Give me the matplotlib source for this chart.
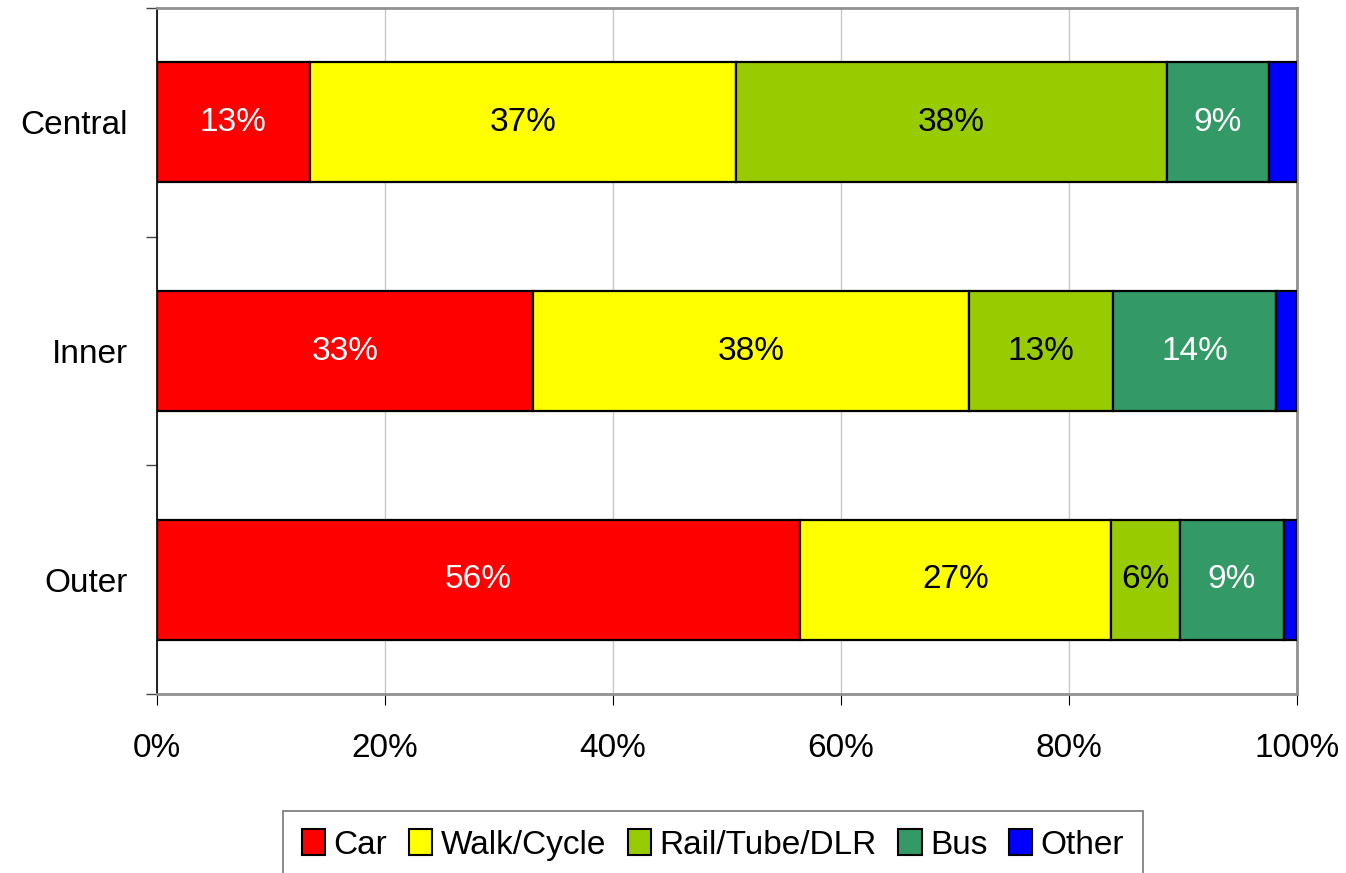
import matplotlib
matplotlib.use("Agg")
import matplotlib.pyplot as plt
from matplotlib.ticker import FixedLocator, FuncFormatter
from matplotlib.patches import Patch

categories = ["Central", "Inner", "Outer"]
modes = ["Car", "Walk/Cycle", "Rail/Tube/DLR", "Bus", "Other"]
car = [13.4, 33.0, 56.4]
walk = [37.4, 38.2, 27.3]
rail = [37.8, 12.7, 6.0]
bus = [8.9, 14.3, 9.2]
other = [2.5, 1.8, 1.1]
series = [car, walk, rail, bus, other]
colors = ["#FF0000", "#FFFF00", "#99CC00", "#339966", "#0000FF"]
label_colors = ["white", "black", "black", "white", None]
x_ticks = [0, 20, 40, 60, 80, 100]

plt.rcParams['font.family'] = ['Liberation Sans', 'DejaVu Sans']
FS = 24

fig = plt.figure(figsize=(13.46, 8.73), dpi=100)
ax = fig.add_axes([157/1346, 1-694/873, 1140/1346, 686/873])

ypos = list(range(len(categories)))
left = [0.0]*len(categories)
for vals, col, lc in zip(series, colors, label_colors):
    ax.barh(ypos, vals, left=left, height=0.525, color=col,
            edgecolor="black", linewidth=1.6, zorder=3)
    if lc is not None:
        for y, l, v in zip(ypos, left, vals):
            ax.text(l + v/2, y, f"{round(v):d}%", ha="center", va="center",
                    color=lc, fontsize=FS, zorder=4)
    left = [a + b for a, b in zip(left, vals)]

ax.set_xlim(0, 100)
ax.set_ylim(len(categories)-0.5, -0.5)
ax.xaxis.set_major_locator(FixedLocator(x_ticks))
ax.xaxis.set_major_formatter(FuncFormatter(lambda v, p: f"{int(v)}%"))
ax.tick_params(axis="x", labelsize=FS, length=8, direction="out", pad=20, color="black")
ax.set_yticks(ypos)
ax.set_yticklabels(categories)
ax.set_yticks([i - 0.5 for i in range(len(categories)+1)], minor=True)
ax.tick_params(axis="y", which="major", length=0, labelsize=FS, pad=21)
ax.tick_params(axis="y", which="minor", length=8, width=1, color="#444444")

ax.grid(axis="x", color="#C8C8C8", linewidth=1, zorder=0)
ax.set_axisbelow(True)
for s in ["top", "right", "bottom"]:
    ax.spines[s].set_color("#909090")
    ax.spines[s].set_linewidth(2)
ax.spines["left"].set_color("black")
ax.spines["left"].set_linewidth(1.2)

handles = [Patch(facecolor=c, edgecolor="black", linewidth=1.5) for c in colors]
leg = fig.legend(handles, modes, loc="upper center", bbox_to_anchor=(713/1346, 1-811/873),
                 ncol=5, frameon=True, fancybox=False, fontsize=24,
                 handlelength=0.7, handleheight=0.8, handletextpad=0.25,
                 columnspacing=0.65, borderpad=0.55, borderaxespad=0)
leg.get_frame().set_edgecolor("#555555")
leg.get_frame().set_linewidth(1.2)

fig.savefig("out.png", dpi=100)
